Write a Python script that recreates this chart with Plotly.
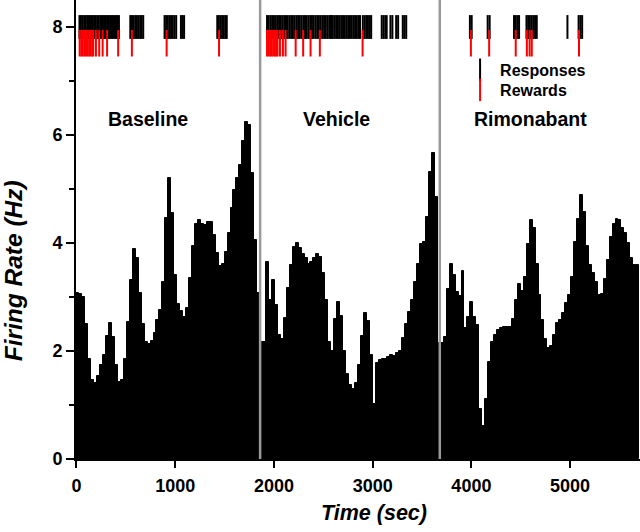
import plotly.graph_objects as go

# ---------------- data ----------------
BIN_WIDTH = 30  # seconds per histogram bin

firing_rate = [
    # Baseline (bins 0-61)
    3.08, 3.05, 3.00, 2.50, 1.86, 1.46, 1.41, 1.54, 1.74, 1.92,
    2.27, 2.52, 2.26, 1.74, 1.43, 1.46, 1.86, 2.54, 3.31, 3.88,
    3.72, 3.08, 2.50, 2.17, 2.13, 2.19, 2.33, 2.57, 2.76, 3.28,
    4.46, 5.20, 4.55, 3.41, 2.87, 2.75, 2.63, 2.80, 3.35, 3.94,
    4.35, 4.42, 4.35, 4.33, 4.38, 4.38, 4.15, 3.81, 3.57, 3.62,
    3.84, 4.19, 4.64, 4.99, 5.20, 5.44, 5.88, 6.25, 6.19, 5.29,
    4.06, 3.08,
    # Vehicle (bins 62-121)
    2.17, 2.17, 3.64, 2.94, 3.32, 2.85, 2.30, 2.22, 2.62, 3.16,
    3.59, 3.93, 4.00, 3.90, 3.79, 3.72, 3.62, 3.65, 3.73, 3.80,
    3.74, 3.44, 2.95, 2.16, 2.00, 2.60, 2.91, 2.65, 2.00, 1.58,
    1.37, 1.29, 1.40, 1.74, 2.28, 2.71, 2.56, 1.92, 1.02, 1.77,
    1.83, 1.85, 1.86, 1.88, 1.92, 1.90, 1.96, 2.00, 2.24, 2.50,
    2.73, 2.94, 3.28, 3.62, 3.98, 4.02, 4.48, 5.32, 5.66, 4.86,
    # Rimonabant (bins 122-189)
    2.14, 2.14, 2.26, 3.14, 3.61, 3.41, 3.10, 3.01, 3.49, 2.42,
    2.63, 2.91, 2.63, 2.48, 0.92, 0.61, 1.12, 1.80, 2.17, 2.30,
    2.38, 2.42, 2.45, 2.44, 2.45, 2.60, 2.95, 3.25, 3.11, 3.37,
    3.99, 4.42, 4.27, 3.62, 3.03, 2.57, 2.22, 2.05, 2.09, 2.30,
    2.51, 2.58, 2.70, 2.89, 3.03, 3.37, 4.02, 4.44, 4.89, 4.58,
    3.95, 3.60, 3.45, 3.28, 3.03, 3.06, 3.34, 3.68, 4.11, 4.36,
    4.45, 4.42, 4.27, 4.18, 4.00, 3.72, 3.60, 3.60,
]

response_times = [
    # Baseline
    30, 45, 62, 78, 92, 108, 121, 137, 150, 166, 180, 195, 210, 224, 240,
    254, 268, 283, 298, 312, 326, 340, 356, 370, 385, 400, 414, 430,
    545, 562, 578, 595, 612, 628, 645, 660, 676,
    892, 908, 925, 942, 958, 975, 992, 1010,
    1058, 1075, 1090,
    1426, 1442, 1458, 1475, 1492, 1508, 1522,
    # Vehicle
    1930, 1947, 1965, 1982, 2000, 2018, 2035, 2052, 2070, 2088, 2105, 2122,
    2140, 2158, 2175, 2192, 2210, 2228, 2245, 2262, 2280, 2298, 2315, 2332,
    2350, 2368, 2385, 2402, 2420, 2438, 2455, 2472, 2490, 2508, 2525, 2542,
    2560, 2578, 2595, 2612, 2630, 2648, 2665, 2682, 2700, 2718, 2735, 2752,
    2770, 2788, 2805, 2822, 2840, 2858, 2872,
    2900, 2918, 2935, 2952, 2970, 2985,
    3092, 3110, 3128, 3142,
    3180, 3200,
    3238, 3258,
    3305, 3322, 3340,
    # Rimonabant
    3985, 4003,
    4165, 4185,
    4432, 4450, 4468, 4483,
    4558, 4575, 4592, 4610, 4627, 4645, 4662,
    4973,
    5086, 5104, 5122,
]

reward_times = [
    # Baseline
    32, 48, 64, 80, 96, 112, 128, 144, 160, 170,
    197, 230, 265, 310, 422, 561, 913, 1444,
    # Vehicle
    1930, 1946, 1962, 1978, 1994, 2010, 2026, 2036,
    2061, 2091, 2118, 2220, 2296, 2371, 2465, 2898,
    # Rimonabant
    3995, 4180, 4449, 4562, 4590, 4612, 5090,
]

session_names = ["Baseline", "Vehicle", "Rimonabant"]
session_boundaries = [1860, 3680]
x_ticks = [0, 1000, 2000, 3000, 4000, 5000]
y_ticks = [0, 2, 4, 6, 8]

# ---------------- figure ----------------
FONT = "Liberation Sans, Arial, Helvetica, sans-serif"
bin_centers = [i * BIN_WIDTH + BIN_WIDTH / 2 for i in range(len(firing_rate))]

fig = go.Figure()
fig.add_trace(go.Bar(
    x=bin_centers, y=firing_rate, width=BIN_WIDTH,
    marker=dict(color="black", line=dict(color="black", width=1)),
    showlegend=False, hoverinfo="skip",
))
fig.add_trace(go.Scatter(
    x=response_times, y=[8.0] * len(response_times), mode="markers",
    name="Responses", legend="legend",
    marker=dict(symbol="line-ns", size=17, color="black",
                line=dict(color="black", width=2)),
))
fig.add_trace(go.Scatter(
    x=reward_times, y=[7.7] * len(reward_times), mode="markers",
    name="Rewards", legend="legend2",
    marker=dict(symbol="line-ns", size=19, color="#ff0000",
                line=dict(color="#ff0000", width=2)),
))

for b in session_boundaries:
    fig.add_shape(type="line", x0=b, x1=b, y0=0, y1=1, xref="x", yref="paper",
                  line=dict(color="#9a9a9a", width=2.5), layer="above")

label_x = [726, 2629, 4596]
for name, lx in zip(session_names, label_x):
    fig.add_annotation(x=lx, y=6.3, text=name, showarrow=False,
                       font=dict(family=FONT, size=19.5, color="black", weight="bold"))

# axis titles
fig.add_annotation(x=0.529, y=-0.1176, xref="paper", yref="paper", text="Time (sec)",
                   showarrow=False, xanchor="center", yanchor="middle",
                   font=dict(family=FONT, size=21.5, color="black", weight="bold", style="italic"))
fig.add_annotation(x=-0.1108, y=0.41, xref="paper", yref="paper", text="Firing Rate (Hz)",
                   showarrow=False, textangle=-90, xanchor="center", yanchor="middle",
                   font=dict(family=FONT, size=24.5, color="black", weight="bold", style="italic"))

legend_style = dict(xanchor="left", yanchor="top", bgcolor="rgba(0,0,0,0)",
                    font=dict(family=FONT, size=16, weight="bold"), itemsizing="trace")

fig.update_layout(
    width=640, height=532,
    margin=dict(l=76, r=0, t=0, b=73),
    paper_bgcolor="white", plot_bgcolor="white",
    bargap=0,
    font=dict(family=FONT, color="black"),
    legend=dict(x=0.681, y=0.885, **legend_style),
    legend2=dict(x=0.681, y=0.841, **legend_style),
    xaxis=dict(
        range=[-5, 5708], tickvals=x_ticks, ticks="outside", ticklen=7, tickwidth=2,
        tickcolor="black", showline=True, linewidth=2, linecolor="black",
        showgrid=False, zeroline=False, automargin=False, ticklabelstandoff=2,
        tickfont=dict(family=FONT, size=18, weight="bold"),
    ),
    yaxis=dict(
        range=[0, 8.5], tickvals=y_ticks, ticks="outside", ticklen=8, tickwidth=2,
        tickcolor="black", showline=True, linewidth=2, linecolor="black",
        showgrid=False, zeroline=False, automargin=False,
        minor=dict(dtick=1, tick0=0, ticks="outside", ticklen=5, tickwidth=2,
                   tickcolor="black", showgrid=False),
        tickfont=dict(family=FONT, size=18, weight="bold"),
    ),
)

fig.write_html("out.html", config={"displayModeBar": False},
               post_script="document.body.style.margin='0';")
